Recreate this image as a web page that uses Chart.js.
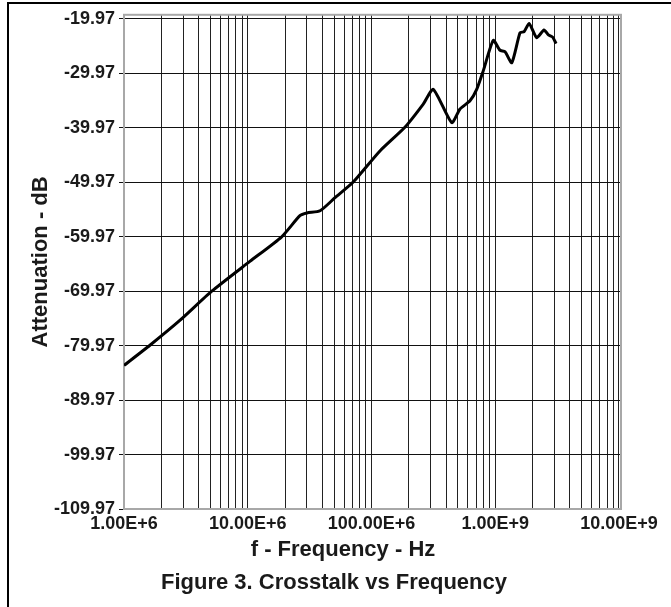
<!DOCTYPE html>
<html>
<head>
<meta charset="utf-8">
<script src="https://cdn.jsdelivr.net/npm/chart.js@4"></script>
<style>
  body { margin: 0; background: #fff; }
  #wrap { position: relative; width: 671px; height: 607px; overflow: hidden; }
  #frame { position: absolute; left: 7px; top: 2px; right: -4px; bottom: -4px;
           border-top: 2px solid #000; border-left: 2px solid #000; }
  .txt { position: absolute; text-align: center; color: #1a1a1a;
         font: bold 22px "Liberation Sans", Arial, sans-serif; }
  #xtitle { left: 0; width: 686px; top: 536px; }
  #caption { left: 0; width: 668px; top: 569px; }
  canvas { position: absolute; left: 0; top: 0; }
</style>
</head>
<body>
<div id="wrap">
  <div id="frame"></div>
  <canvas id="crosstalk" width="671" height="607"></canvas>
  <div id="xtitle" class="txt">f - Frequency - Hz</div>
  <div id="caption" class="txt">Figure 3. Crosstalk vs Frequency</div>
</div>
<script>
// Crosstalk curve
const freqHz = [1.0e6, 1.62e6, 2.84e6, 5.12e6, 10.4e6, 18.8e6, 26.4e6, 30.1e6, 38.4e6, 50.7e6,
                70.8e6, 117e6, 187e6, 262e6, 316e6, 445e6, 519e6, 625e6, 708e6, 800e6,
                964e6, 1.09e9, 1.2e9, 1.36e9, 1.585e9, 1.71e9, 1.88e9, 2.16e9, 2.48e9, 2.69e9,
                2.91e9, 3.1e9];
const attenDb = [-83.6, -79.9, -75.3, -69.97, -64.5, -59.97, -56.1, -55.6, -55.2, -52.8,
                 -49.97, -44.2, -39.8, -35.6, -32.9, -39.0, -36.5, -35.0, -32.9, -29.5,
                 -23.9, -25.7, -26.0, -28.0, -22.5, -22.3, -20.8, -23.4, -22.0, -22.9,
                 -23.3, -24.5];

// axis ticks
const yTicks = [-109.97, -99.97, -89.97, -79.97, -69.97, -59.97, -49.97, -39.97, -29.97, -19.97];
const xDecades = [1e6, 1e7, 1e8, 1e9, 1e10];
const xTickLabels = ['1.00E+6', '10.00E+6', '100.00E+6', '1.00E+9', '10.00E+9'];

const points = freqHz.map((f, i) => ({ x: f, y: attenDb[i] }));

// minor grid lines 1..9 per decade
const xGrid = [];
xDecades.forEach((d, i) => {
    if (i === xDecades.length - 1) { xGrid.push(d); return; }
    for (let m = 1; m <= 9; m++) xGrid.push(m * d);
});

const fontFamily = '"Liberation Sans", Arial, sans-serif';

// gray frame around the plot area
const plotFrame = {
    id: 'plotFrame',
    beforeDatasetsDraw(chart) {
        const a = chart.chartArea, ctx = chart.ctx;
        ctx.save();
        ctx.strokeStyle = '#a8a8a8';
        ctx.lineWidth = 2;
        ctx.strokeRect(a.left, a.top, a.right - a.left, a.bottom - a.top);
        ctx.restore();
    }
};

new Chart(document.getElementById('crosstalk'), {
    type: 'scatter',
    data: {
        datasets: [{
            data: points,
            showLine: true,
            borderColor: '#000',
            borderWidth: 3,
            pointRadius: 0,
            tension: 0.2
        }]
    },
    options: {
        responsive: false,
        animation: false,
        devicePixelRatio: 1,
        layout: { padding: { left: 28, top: 14, right: 50, bottom: 72 } },
        plugins: { legend: { display: false }, tooltip: { enabled: false } },
        scales: {
            x: {
                type: 'logarithmic',
                min: 1e6,
                max: 1.038e10,
                afterBuildTicks: s => { s.ticks = xGrid.map(v => ({ value: v })); },
                afterFit: s => { s.height = 26; },
                ticks: {
                    autoSkip: false,
                    maxRotation: 0,
                    padding: 4,
                    color: '#1a1a1a',
                    font: { family: fontFamily, size: 18, weight: 'bold' },
                    callback: v => {
                        const i = xDecades.indexOf(v);
                        return i >= 0 ? xTickLabels[i] : '';
                    }
                },
                grid: { color: '#222', lineWidth: 1, drawTicks: false },
                border: { color: '#666', width: 1.5 }
            },
            y: {
                min: -109.97,
                max: -19.2,
                afterBuildTicks: s => { s.ticks = yTicks.map(v => ({ value: v })); },
                afterFit: s => { s.width = 96; },
                ticks: {
                    padding: 4,
                    color: '#1a1a1a',
                    font: { family: fontFamily, size: 18, weight: 'bold' },
                    callback: v => v.toFixed(2)
                },
                grid: { color: '#111', lineWidth: 1, tickLength: 5 },
                border: { color: '#666', width: 1.5 },
                title: {
                    display: true,
                    text: 'Attenuation - dB',
                    color: '#1a1a1a',
                    font: { family: fontFamily, size: 22, weight: 'bold' },
                    padding: 0
                }
            }
        }
    },
    plugins: [plotFrame]
});
</script>
</body>
</html>
